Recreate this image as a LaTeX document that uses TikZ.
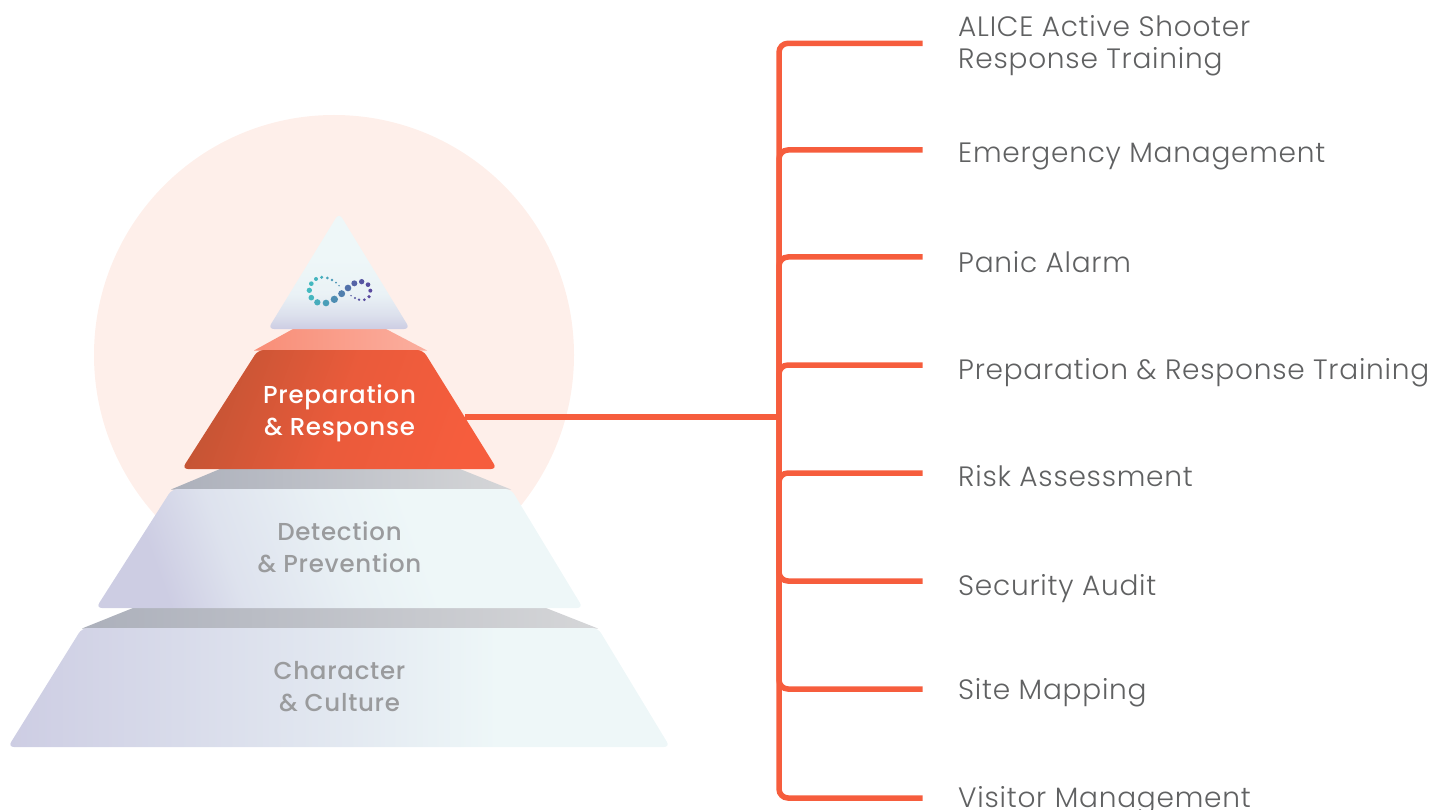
\documentclass[tikz,border=0pt]{standalone}
\usepackage{fontspec}
\setmainfont[LetterSpace=2.7]{Poppins Light}
\newfontfamily\tierfont[LetterSpace=3]{Poppins Medium}
\usepackage{tikz}
\usetikzlibrary{calc}
\definecolor{alertorange}{RGB}{246,93,61}
\definecolor{alertdark}{RGB}{196,84,52}
\definecolor{haloback}{RGB}{254,239,234}
\definecolor{paleleft}{RGB}{205,205,227}
\definecolor{paleright}{RGB}{238,247,248}
\definecolor{bandleft}{RGB}{172,176,187}
\definecolor{bandright}{RGB}{213,214,216}
\definecolor{labelgray}{RGB}{96,97,98}
\definecolor{mutedgray}{RGB}{154,155,157}
\definecolor{dotteal}{RGB}{68,186,192}
\definecolor{dotpurple}{RGB}{90,72,158}
\pgfdeclarehorizontalshading{palelayer}{100bp}{color(0bp)=(paleleft); color(25bp)=(paleleft); color(50bp)=(paleleft!35!paleright); color(62bp)=(paleright); color(100bp)=(paleright)}
\pgfdeclarehorizontalshading{palemiddle}{100bp}{color(0bp)=(paleleft); color(27bp)=(paleleft); color(36bp)=(paleleft!50!paleright); color(50bp)=(paleleft!15!paleright); color(60bp)=(paleright); color(100bp)=(paleright)}
\pgfdeclareverticalshading{paletop}{100bp}{color(0bp)=(paleleft); color(25bp)=(paleleft); color(31bp)=(paleleft!55!paleright); color(40bp)=(paleleft!12!paleright); color(55bp)=(paleright); color(100bp)=(paleright)}
\tikzset{
	layer/.style={rounded corners=6pt, shade, shading=palelayer},
	orangelayer/.style={rounded corners=6pt, left color=alertdark, right color=alertorange, middle color=alertorange!75!alertdark},
	grayband/.style={left color=bandleft, right color=bandright},
	connector/.style={draw=alertorange, line width=5.5pt, rounded corners=9pt},
	itemlabel/.style={anchor=base west, inner sep=0pt, text=labelgray, font=\fontsize{28}{32}\selectfont, align=left},
	tierlabel/.style={inner sep=0pt, align=center, font=\fontsize{24.5}{32}\selectfont\tierfont}
}
\begin{document}
\begin{tikzpicture}[x=1pt,y=-1pt]
	\useasboundingbox (0,0) rectangle (1432,810);
	\fill[haloback] (334,355) circle (240);
	% bands
	\shade[grayband] (133,608) -- (546,608) -- (598,628.5) -- (82,628.5) -- cycle;
	\shade[grayband] (220,469) -- (460,469) -- (511,489.5) -- (171,489.5) -- cycle;
	\shade[left color=alertorange!70, right color=alertorange!50] (293,329) -- (386,329) -- (427,350.5) -- (254,350.5) -- cycle;
	% tiers
	\path[layer] (82,628) -- (598,628) -- (670,747) -- (8,747) -- cycle;
	\path[layer, shading=palemiddle, shading angle=20] (172,489) -- (511,489) -- (583,608) -- (96,608) -- cycle;
	\shade[orangelayer, shading angle=70] (258,350) -- (423,350) -- (497,469) -- (182,469) -- cycle;
	\path[shade, shading=paletop, rounded corners=10pt] (339,213) [rounded corners=6pt] -- (410,329) -- (268,329) -- cycle;
	% logo
	\foreach \dx/\dy/\dr/\dm in {237/257/2.5/62,228/248/3/66,216/240/4/72,202/234/4.5/80,185/232/5/90,168/237/6/95,154/251/7/98,148/271/8/100,154/293/8.5/96,172/307/9.5/88,198/309/10/75,223/298/11/60,245/281/10.5/48,264/264/10/36,283/250/9/24,305/245/8/12,324/254/7/6,331/272/6/2,327/290/5.5/2,313/299/4.5/4,297/299/4/8,285/294/3.5/12,273/287/2.5/16} {
		\fill[dotteal!\dm!dotpurple] ({260+\dx/3},{200+\dy/3}) circle ({\dr/3});
	}
	% tier names
	\node[tierlabel, text=white] (prep) at (339.5,413) {Preparation\\\& Response};
	\node[tierlabel, text=mutedgray] (detect) at (339.5,547.5) {Detection\\\& Prevention};
	\node[tierlabel, text=mutedgray] (culture) at (339.5,687) {Character\\\& Culture};
	% list
	\foreach \n/\ypos/\base/\name in {1/43.3/36.7/{ALICE Active Shooter},2/150/162.7/Emergency Management,3/257/272.7/Panic Alarm,4/365/379/Preparation \& Response Training,5/473/486/Risk Assessment,6/581/595/Security Audit,7/689/699/Site Mapping,8/798/807/Visitor Management} {
		\node[itemlabel] (item\n) at (958,\base) {\name};
		\coordinate (tip\n) at (922.5,\ypos);
	}
	\node[itemlabel] (itemb) at (958,68.7) {Response Training};
	\coordinate (hub) at (779,417);
	\coordinate (stem) at (465,417);
	\coordinate (foot) at (779,640);
	\draw[connector, rounded corners=0pt] (stem) -- (hub);
	\draw[connector] (tip1) -| (hub) |- (tip8);
	\foreach \n in {2,3,4,6,7} {
		\draw[connector] (tip\n) -| (hub);
	}
	\draw[connector] (tip5) -| (foot);
\end{tikzpicture}
\end{document}
